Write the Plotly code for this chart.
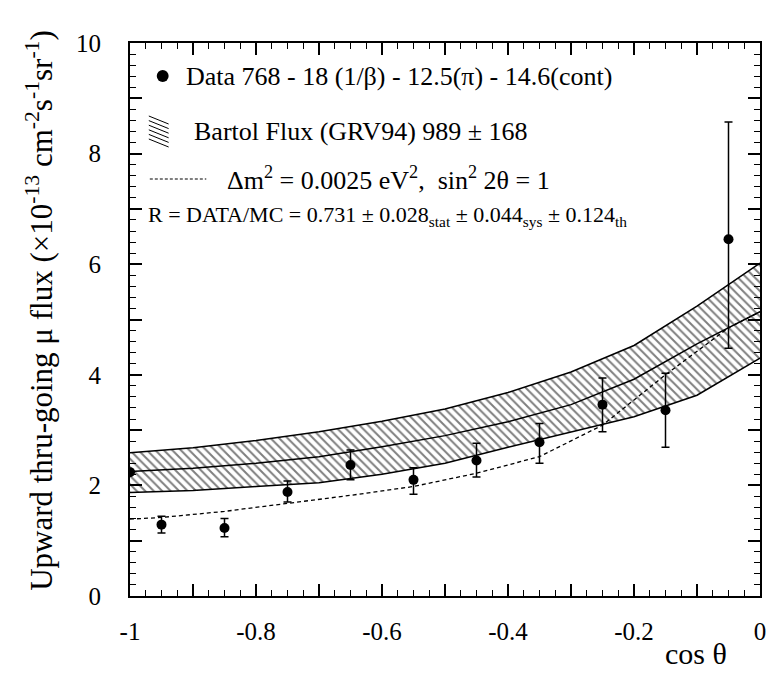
import plotly.graph_objects as go

# upward thru-going muon flux vs zenith angle
cos_theta = [-0.95, -0.85, -0.75, -0.65, -0.55, -0.45, -0.35, -0.25, -0.15, -0.05]
flux = [1.29, 1.23, 1.88, 2.37, 2.10, 2.45, 2.78, 3.46, 3.36, 6.45]
err_up = [0.15, 0.17, 0.20, 0.27, 0.22, 0.31, 0.34, 0.48, 0.67, 2.12]
err_down = [0.15, 0.16, 0.18, 0.27, 0.26, 0.30, 0.38, 0.49, 0.67, 1.97]

# Bartol flux prediction band
band_x = [-1.0, -0.9, -0.8, -0.7, -0.6, -0.5, -0.4, -0.3, -0.2, -0.1, 0.0]
band_upper = [2.59, 2.68, 2.81, 2.97, 3.16, 3.38, 3.68, 4.05, 4.53, 5.24, 6.02]
band_center = [2.25, 2.31, 2.40, 2.52, 2.70, 2.90, 3.15, 3.46, 3.92, 4.56, 5.14]
band_lower = [1.87, 1.91, 1.98, 2.05, 2.20, 2.40, 2.69, 2.96, 3.24, 3.63, 4.30]

# oscillated expectation
osc_x = [-1.0, -0.95, -0.85, -0.75, -0.65, -0.55, -0.45, -0.35, -0.25, -0.15, -0.05, 0.0]
osc_y = [1.39, 1.42, 1.53, 1.67, 1.82, 1.98, 2.22, 2.52, 3.09, 4.00, 4.85, 5.14]

# half visible point at left edge
edge_x = [-1.0]
edge_y = [2.24]

# tick labels
x_tickvals = [-1.0, -0.9, -0.8, -0.7, -0.6, -0.5, -0.4, -0.3, -0.2, -0.1, 0.0]
x_ticktext = ["-1", "", "-0.8", "", "-0.6", "", "-0.4", "", "-0.2", "", "0"]
y_tickvals = [0, 1, 2, 3, 4, 5, 6, 7, 8, 9, 10]
y_ticktext = ["0", "", "2", "", "4", "", "6", "", "8", "", "10"]

FONT = "Liberation Serif"

fig = go.Figure()

fig.add_trace(go.Scatter(x=band_x, y=band_lower, mode="lines",
                         line=dict(color="black", width=1.5), showlegend=False))
fig.add_trace(go.Scatter(x=band_x, y=band_upper, mode="lines", fill="tonexty",
                         fillcolor="white",
                         fillpattern=dict(shape="\\", size=6, solidity=0.33,
                                          fgcolor="black", bgcolor="white"),
                         line=dict(color="black", width=1.5), showlegend=False))
fig.add_trace(go.Scatter(x=band_x, y=band_center, mode="lines",
                         line=dict(color="black", width=1.5), showlegend=False))
fig.add_trace(go.Scatter(x=osc_x, y=osc_y, mode="lines",
                         line=dict(color="black", width=1.3, dash="4px,3px"),
                         showlegend=False))
fig.add_trace(go.Scatter(x=cos_theta, y=flux, mode="markers",
                         marker=dict(color="black", size=10),
                         error_y=dict(type="data", symmetric=False, array=err_up,
                                      arrayminus=err_down, color="black",
                                      thickness=1.5, width=4),
                         showlegend=False))
fig.add_trace(go.Scatter(x=edge_x, y=edge_y, mode="markers",
                         marker=dict(color="black", size=10), showlegend=False))

axis_common = dict(showline=True, linecolor="black", linewidth=2, mirror="ticks",
                   ticks="inside", tickcolor="black", showgrid=False, zeroline=False)

fig.update_layout(
    width=774, height=678,
    margin=dict(l=130, r=8, t=43, b=82),
    paper_bgcolor="white", plot_bgcolor="white",
    font=dict(family=FONT, color="black"),
    xaxis=dict(range=[-1, 0], tickmode="array", tickvals=x_tickvals,
               ticktext=x_ticktext, ticklen=12, tickwidth=1.5,
               tickfont=dict(size=25, family=FONT), ticklabelstandoff=12,
               minor=dict(dtick=0.025, tick0=-1, ticklen=6, ticks="inside",
                          tickcolor="black", tickwidth=1.2),
               **axis_common),
    yaxis=dict(range=[0, 10], tickmode="array", tickvals=y_tickvals,
               ticktext=y_ticktext, ticklen=12, tickwidth=1.5,
               tickfont=dict(size=25, family=FONT), ticklabelstandoff=22,
               minor=dict(dtick=0.2, ticklen=6, ticks="inside",
                          tickcolor="black", tickwidth=1.2),
               **axis_common),
)

# legend drawn by hand
def px_x(p):
    return (p - 130) / 636


def px_y(p):
    return (596 - p) / 553


fig.add_shape(type="circle", xref="paper", yref="paper",
              x0=px_x(157), x1=px_x(169), y0=px_y(82), y1=px_y(70),
              fillcolor="black", line=dict(color="black", width=0))
for i in range(6):
    fig.add_shape(type="line", xref="paper", yref="paper",
                  x0=px_x(149), x1=px_x(169),
                  y0=px_y(116 + 4.6 * i), y1=px_y(124 + 4.6 * i),
                  line=dict(color="black", width=1))
fig.add_shape(type="line", xref="paper", yref="paper",
              x0=px_x(150), x1=px_x(207), y0=px_y(179), y1=px_y(179),
              line=dict(color="black", width=1.2, dash="3px,2px"))

legend_texts = [
    ("Data 768 - 18 (1/β) - 12.5(π) - 14.6(cont)", 185, 76, 26),
    ("Bartol Flux (GRV94) 989 ± 168", 193, 131, 26),
    ("Δm<sup>2</sup> = 0.0025 eV<sup>2</sup>,  sin<sup>2</sup> 2θ = 1", 226, 178, 26),
    ("R = DATA/MC = 0.731 ± 0.028<sub>stat</sub> ± 0.044<sub>sys</sub> ± 0.124<sub>th</sub>",
     146, 216, 22),
]
for txt, px, py, size in legend_texts:
    fig.add_annotation(text=txt, xref="paper", yref="paper",
                       x=px_x(px), y=px_y(py),
                       xanchor="left", yanchor="middle", showarrow=False,
                       font=dict(size=size, family=FONT, color="black"))

fig.add_annotation(
    text="Upward thru-going μ flux (×10<sup>-13</sup> cm<sup>-2</sup>s<sup>-1</sup>sr<sup>-1</sup>)",
    xref="paper", yref="paper", x=px_x(38), y=px_y(310),
    xanchor="center", yanchor="middle", textangle=-90, showarrow=False,
    font=dict(size=31, family=FONT, color="black"))
fig.add_annotation(
    text="cos θ", xref="paper", yref="paper",
    x=px_x(701), y=px_y(653),
    xanchor="center", yanchor="middle", showarrow=False,
    font=dict(size=30, family=FONT, color="black"))

# drop the default page margin so the figure fills the window
fig.write_html("out.html", config={"displayModeBar": False},
               post_script="document.body.style.margin='0';")
